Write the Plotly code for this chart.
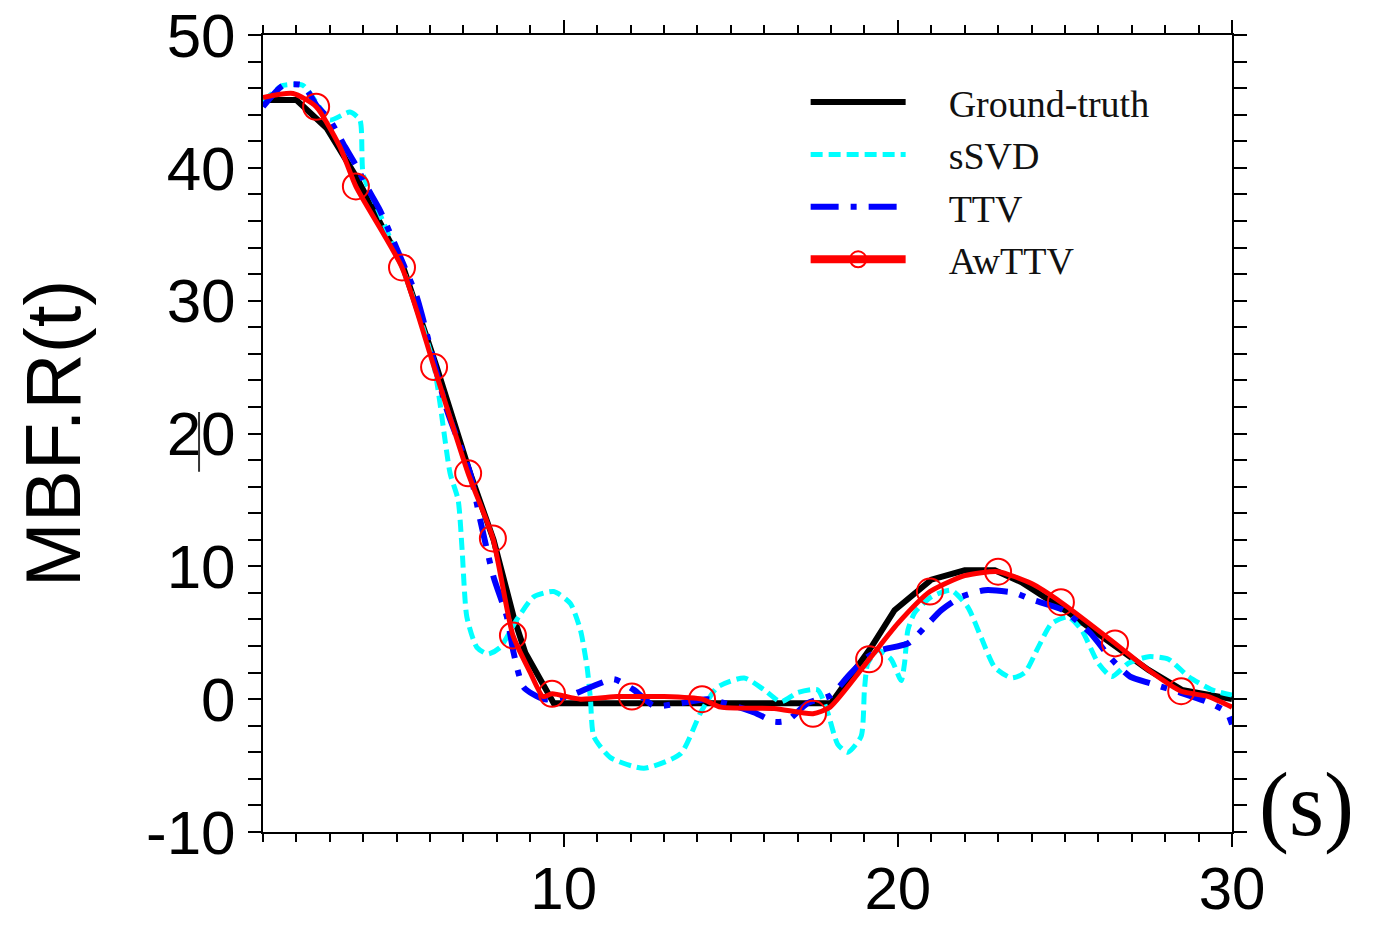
import plotly.graph_objects as go

# Ground truth
gt_x = [1, 2, 2.9, 3.8, 5.2, 6.2, 7.2, 7.9, 8.5, 8.85, 9.7, 18.0, 19.2, 19.9, 21.0, 22.0, 22.9, 23.7, 25.0, 26.4, 27.5, 28.5, 30]
gt_y = [45.1, 45.1, 43.0, 39.3, 32.5, 25.0, 17.0, 12.0, 6.2, 3.5, -0.3, -0.3, 3.9, 6.7, 9.0, 9.7, 9.7, 8.8, 6.7, 4.2, 2.2, 0.7, 0.0]

# sSVD
ssvd_x = [1, 1.6, 2.2, 2.6, 3.0, 3.6, 3.9, 4.0, 4.5, 5.2, 6.1, 6.6, 6.84, 6.96, 7.1, 7.4, 7.73, 8.1, 8.6, 9.1, 9.7,
          10.2, 10.5, 10.7, 10.8, 10.9, 11.4, 12.4, 13.5, 14.1, 14.6, 15.4, 16.0, 16.5, 17.0, 17.6, 17.9, 18.2, 18.5,
          18.9, 19.0, 19.1, 19.4, 19.8, 20.1, 20.2, 20.3, 20.5, 21.0, 21.6, 22.1, 22.5, 22.9, 23.4, 23.8, 24.2, 24.6,
          25.1, 25.5, 26.0, 26.4, 26.9, 27.5, 28.1, 28.7, 29.4, 30]
ssvd_y = [45.0, 46.2, 46.2, 44.9, 43.6, 44.2, 43.6, 39.5, 36.5, 32.3, 25.3, 17.0, 15.0, 11.2, 6.2, 3.9, 3.4, 3.9, 6.0, 7.7, 8.1,
          7.2, 5.2, 2.4, 0.0, -2.8, -4.4, -5.2, -4.1, -1.0, 0.9, 1.6, 0.7, -0.2, 0.5, 0.7, -1.0, -3.4, -4.0,
          -2.8, 0.7, 2.7, 3.7, 3.0, 1.4, 2.7, 5.2, 6.5, 7.7, 8.2, 6.9, 4.6, 2.4, 1.6, 2.0, 3.9, 5.7,
          6.2, 5.2, 2.7, 1.7, 2.7, 3.2, 3.0, 1.7, 0.7, 0.3]

# TTV
ttv_x = [1, 1.6, 2.2, 2.6, 3.0, 3.45, 3.8, 4.1, 4.5, 4.8, 5.6, 5.8, 6.5, 7.2, 7.5, 7.9, 8.3, 8.5, 8.8, 9.4, 10.1, 10.8,
         11.5, 12.1, 12.7, 13.5, 14.3, 15.7, 16.3, 16.7, 17.3, 18.0, 18.5, 19.1, 19.5, 20.3, 20.8, 21.3, 21.9, 22.6,
         23.5, 24.0, 24.95, 25.75, 26.4, 26.95, 27.55, 28.45, 29.25, 29.85, 30]
ttv_y = [44.6, 46.2, 46.2, 44.7, 43.6, 41.6, 40.1, 38.6, 36.8, 35.1, 30.3, 28.5, 21.8, 17.0, 13.5, 9.2, 6.2, 3.5, 0.9, 0.0, 0.2, 0.9,
         1.5, 0.7, -0.5, -0.3, 0.0, -1.0, -1.7, -1.6, -0.3, 0.3, 1.7, 3.2, 3.7, 4.2, 5.4, 6.7, 7.7, 8.2,
         8.0, 7.5, 6.7, 5.0, 3.0, 1.7, 1.2, 0.5, -0.2, -1.0, -1.9]

# AwTTV (full curve)
aw_x = [1, 1.9, 2.59, 3.3, 3.78, 5.16, 6.12, 7.14, 7.88, 8.48, 9.0, 9.38, 9.65, 10.5, 11.6, 12.04, 13.0, 14.14, 14.7, 16.3,
        17.46, 17.97, 19.14, 20.0, 20.96, 22.0, 23.0, 24.0, 24.88, 26.5, 27.5, 28.48, 29.3, 30]
aw_y = [45.3, 45.6, 44.6, 41.6, 38.6, 32.5, 25.0, 17.0, 12.1, 4.8, 2.0, 0.2, 0.4, 0.0, 0.2, 0.2, 0.2, 0.0, -0.6, -0.7,
        -1.1, -0.6, 3.0, 5.7, 8.1, 9.3, 9.6, 8.7, 7.3, 4.2, 2.2, 0.6, 0.2, -0.6]

# AwTTV marker positions
awm_x = [2.59, 3.78, 5.16, 6.12, 7.14, 7.88, 8.48, 9.65, 12.04, 14.14, 17.46, 19.14, 20.96, 23.0, 24.88, 26.5, 28.48]
awm_y = [44.6, 38.6, 32.5, 25.0, 17.0, 12.1, 4.8, 0.4, 0.2, 0.0, -1.1, 3.0, 8.1, 9.6, 7.3, 4.2, 0.6]

x_ticks = [10, 20, 30]
y_ticks = [-10, 0, 10, 20, 30, 40, 50]

PAD = "\u00a0\u00a0\u00a0\u00a0"

fig = go.Figure()

fig.add_trace(go.Scatter(x=gt_x, y=gt_y, mode="lines", name=PAD + "Ground-truth",
                         line=dict(color="black", width=6)))
fig.add_trace(go.Scatter(x=ssvd_x, y=ssvd_y, mode="lines", name=PAD + "sSVD",
                         line=dict(color="#00FFFF", width=5, dash="12px,6px", shape="spline", smoothing=0.6)))
fig.add_trace(go.Scatter(x=ttv_x, y=ttv_y, mode="lines", name=PAD + "TTV",
                         line=dict(color="#0000FF", width=6, dash="28px,12px,6px,12px", shape="spline", smoothing=0.6)))
fig.add_trace(go.Scatter(x=aw_x, y=aw_y, mode="lines", name="AwTTV", showlegend=False,
                         line=dict(color="#FF0000", width=5, shape="spline", smoothing=0.6)))
fig.add_trace(go.Scatter(x=awm_x, y=awm_y, mode="markers", name="AwTTV", showlegend=False,
                         marker=dict(symbol="circle-open", size=26, color="#FF0000", line=dict(width=2, color="#FF0000"))))
# legend proxy
fig.add_trace(go.Scatter(x=[None], y=[None], mode="lines+markers", name=PAD + "AwTTV",
                         line=dict(color="#FF0000", width=8),
                         marker=dict(symbol="circle-open", size=20, color="#FF0000", line=dict(width=2, color="#FF0000"))))

axis_common = dict(
    showline=True, linecolor="black", linewidth=2, mirror="ticks",
    ticks="outside", ticklen=13, tickwidth=2, tickcolor="black",
    showgrid=False, zeroline=False, automargin=False,
)

fig.update_xaxes(range=[1, 30], tickvals=x_ticks, ticktext=[str(v) for v in x_ticks],
                 tickfont=dict(family="Liberation Sans, Arial", size=60, color="black"),
                 ticklabelstandoff=-10,
                 minor=dict(dtick=1, tick0=0, ticklen=8, tickwidth=2, ticks="outside", tickcolor="black"),
                 **axis_common)
fig.update_yaxes(range=[-10, 50], tickvals=y_ticks, ticktext=[str(v) for v in y_ticks],
                 tickfont=dict(family="Liberation Sans, Arial", size=62, color="black"),
                 minor=dict(dtick=2, tick0=0, ticklen=13, tickwidth=2, ticks="outside", tickcolor="black"),
                 title=dict(text="MBF.R(t)", font=dict(family="Liberation Sans, Arial", size=78, color="black"), standoff=40),
                 **axis_common)

fig.add_annotation(text="(s)", xref="paper", yref="paper", x=1.077, y=0.034, showarrow=False,
                   font=dict(family="Liberation Serif, Times New Roman", size=90, color="black"),
                   xanchor="center", yanchor="middle")
fig.add_shape(type="line", xref="paper", yref="paper", x0=-0.066, x1=-0.066, y0=0.452, y1=0.527,
              line=dict(color="#333333", width=2))

fig.update_layout(
    width=1374, height=927,
    margin=dict(l=263, r=142, t=35, b=95),
    plot_bgcolor="white", paper_bgcolor="white",
    legend=dict(x=0.56, y=0.955, xanchor="left", yanchor="top", bgcolor="rgba(0,0,0,0)",
                font=dict(family="Liberation Serif, Times New Roman", size=38, color="#111111"),
                itemwidth=95, tracegroupgap=0),
)

fig.write_html("out.html")
